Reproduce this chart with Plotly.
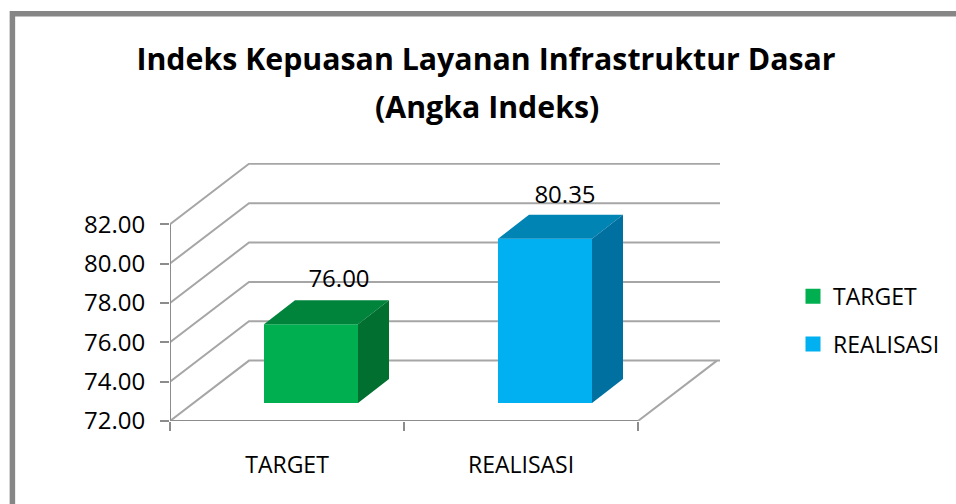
import plotly.graph_objects as go

categories = ["TARGET", "REALISASI"]
values = [76.00, 80.35]
front_colors = ["#00B050", "#00B0F0"]
top_colors = ["#00843C", "#0084B4"]
side_colors = ["#006F2F", "#0070A0"]
y_ticks = [72, 74, 76, 78, 80, 82]
title_lines = ["Indeks Kepuasan Layanan Infrastruktur Dasar", "(Angka Indeks)"]

FONT = "Open Sans"
GRID = "#A6A6A6"
AXIS = "#8C8C8C"

# scale: pixels per category and per value unit
PX_X, PX_Y = 234.0, 19.72
L, R, T, B = 170, 236, 163, 82.5
W, H = 956, 504
PW, PH = W - L - R, H - T - B
xr = [-0.5, -0.5 + PW / PX_X]
yr = [72, 72 + PH / PX_Y]
# depth of the floor / bars (in axis units)
WALL_DX, WALL_DY = 79 / PX_X, 60.5 / PX_Y
BAR_DX, BAR_DY = 31 / PX_X, 24 / PX_Y
SHIFT_X, SHIFT_PX_Y = 24 / PX_X, 18
BAR_W = 94 / PX_X
y0 = y_ticks[0]
# label placement relative to the front face of each bar, in pixels
LABEL_DX = [28, 20]
LABEL_DY = [43.5, 42]


def px_x(p):
    return (p - L) / PW


def px_y(p):
    return (H - B - p) / PH


fig = go.Figure()

# walls: gridlines
for v in y_ticks:
    fig.add_trace(go.Scatter(
        x=[xr[0], xr[0] + WALL_DX, xr[1]], y=[v, v + WALL_DY, v + WALL_DY],
        mode="lines", line=dict(color=GRID, width=2), showlegend=False, hoverinfo="skip"))
# floor edge
fig.add_trace(go.Scatter(
    x=[1.5, 1.5 + WALL_DX], y=[y0, y0 + WALL_DY],
    mode="lines", line=dict(color=GRID, width=2), showlegend=False, hoverinfo="skip"))
# axes lines
fig.add_trace(go.Scatter(x=[-0.5, 1.5], y=[y0, y0], mode="lines",
                         line=dict(color=AXIS, width=2), showlegend=False, hoverinfo="skip"))
fig.add_trace(go.Scatter(x=[-0.5, -0.5], y=[y0, y_ticks[-1]], mode="lines",
                         line=dict(color=AXIS, width=2), showlegend=False, hoverinfo="skip"))

xs = list(range(len(categories)))
# front faces, on a second subplot shifted into the depth of the floor
fig.add_trace(go.Bar(x=xs, y=values, xaxis="x2", yaxis="y2", width=BAR_W,
                     marker=dict(color=front_colors, line=dict(width=0)),
                     showlegend=False, hovertext=categories))
for c, v, tc, sc in zip(xs, values, top_colors, side_colors):
    a, b = c - BAR_W / 2, c + BAR_W / 2
    fig.add_trace(go.Scatter(
        x=[a, a + BAR_DX, b + BAR_DX, b, a], y=[v, v + BAR_DY, v + BAR_DY, v, v],
        xaxis="x2", yaxis="y2", mode="lines", fill="toself", fillcolor=tc,
        line=dict(width=0), showlegend=False, hoverinfo="skip"))
    fig.add_trace(go.Scatter(
        x=[b, b + BAR_DX, b + BAR_DX, b, b], y=[y0, y0 + BAR_DY, v + BAR_DY, v, y0],
        xaxis="x2", yaxis="y2", mode="lines", fill="toself", fillcolor=sc,
        line=dict(width=0), showlegend=False, hoverinfo="skip"))

# value labels
fig.add_trace(go.Scatter(
    x=[c + dx / PX_X for c, dx in zip(xs, LABEL_DX)],
    y=[v + dy / PX_Y for v, dy in zip(values, LABEL_DY)],
    text=[f"{v:.2f}" for v in values], mode="text", textposition="middle center",
    textfont=dict(family=FONT, size=24, color="#000000"),
    xaxis="x2", yaxis="y2", showlegend=False, hoverinfo="skip"))

# legend entries
for name, col in zip(categories, front_colors):
    fig.add_trace(go.Scatter(
        x=[None], y=[None], name=name, legendgroup=name, mode="markers",
        marker=dict(symbol="square", size=15, color=col, line=dict(width=0))))

fig.update_layout(
    width=W, height=H,
    margin=dict(l=L, r=R, t=T, b=B, autoexpand=False),
    paper_bgcolor="white", plot_bgcolor="rgba(0,0,0,0)",
    font=dict(family=FONT, size=23, color="#000000"),
    title=dict(text=title_lines[0], x=486 / W, xanchor="center", y=1 - 59 / H, yanchor="middle",
               font=dict(family=FONT, size=30.3, color="#000000", weight="bold")),
    barmode="overlay",
    showlegend=True,
    legend=dict(x=px_x(793), xanchor="left", y=px_y(320.5), yanchor="middle",
                bgcolor="rgba(0,0,0,0)", tracegroupgap=15,
                font=dict(family=FONT, size=23, color="#000000"),
                itemclick=False, itemdoubleclick=False),
    xaxis=dict(range=xr, showgrid=False, zeroline=False, showline=False,
               tickmode="array", tickvals=xs, ticktext=categories, ticks="",
               ticklabelstandoff=28, tickfont=dict(family=FONT, size=23),
               minor=dict(tickmode="array", tickvals=[-0.5, 0.5, 1.5], ticks="outside",
                          ticklen=9, tickwidth=2, tickcolor=AXIS, showgrid=False)),
    yaxis=dict(range=yr, showgrid=False, zeroline=False, showline=False,
               tickmode="array", tickvals=y_ticks, tickformat=".2f", ticks="outside",
               ticklen=9, tickwidth=2, tickcolor=AXIS, ticklabelstandoff=10,
               tickfont=dict(family=FONT, size=24)),
    xaxis2=dict(range=[xr[0] - SHIFT_X, xr[1] - SHIFT_X], domain=[0, 1], anchor="y2", visible=False),
    yaxis2=dict(domain=[SHIFT_PX_Y / PH, 1], range=[yr[0], yr[1] - SHIFT_PX_Y / PX_Y],
                anchor="x2", visible=False),
    annotations=[dict(text=title_lines[1], xref="paper", yref="paper",
                      x=px_x(486.5), y=px_y(106),
                      xanchor="center", yanchor="middle", showarrow=False,
                      font=dict(family=FONT, size=30.3, color="#000000", weight="bold"))],
    shapes=[dict(type="path", xref="paper", yref="paper",
                 path=f"M {px_x(12.4)} {px_y(600)} L {px_x(12.4)} {px_y(13.5)} L {px_x(1100)} {px_y(13.5)}",
                 line=dict(color="#868686", width=5.5))],
)

fig.write_html("out.html", config={"displayModeBar": False},
               post_script="document.body.style.margin='0';document.body.style.overflow='hidden';")
